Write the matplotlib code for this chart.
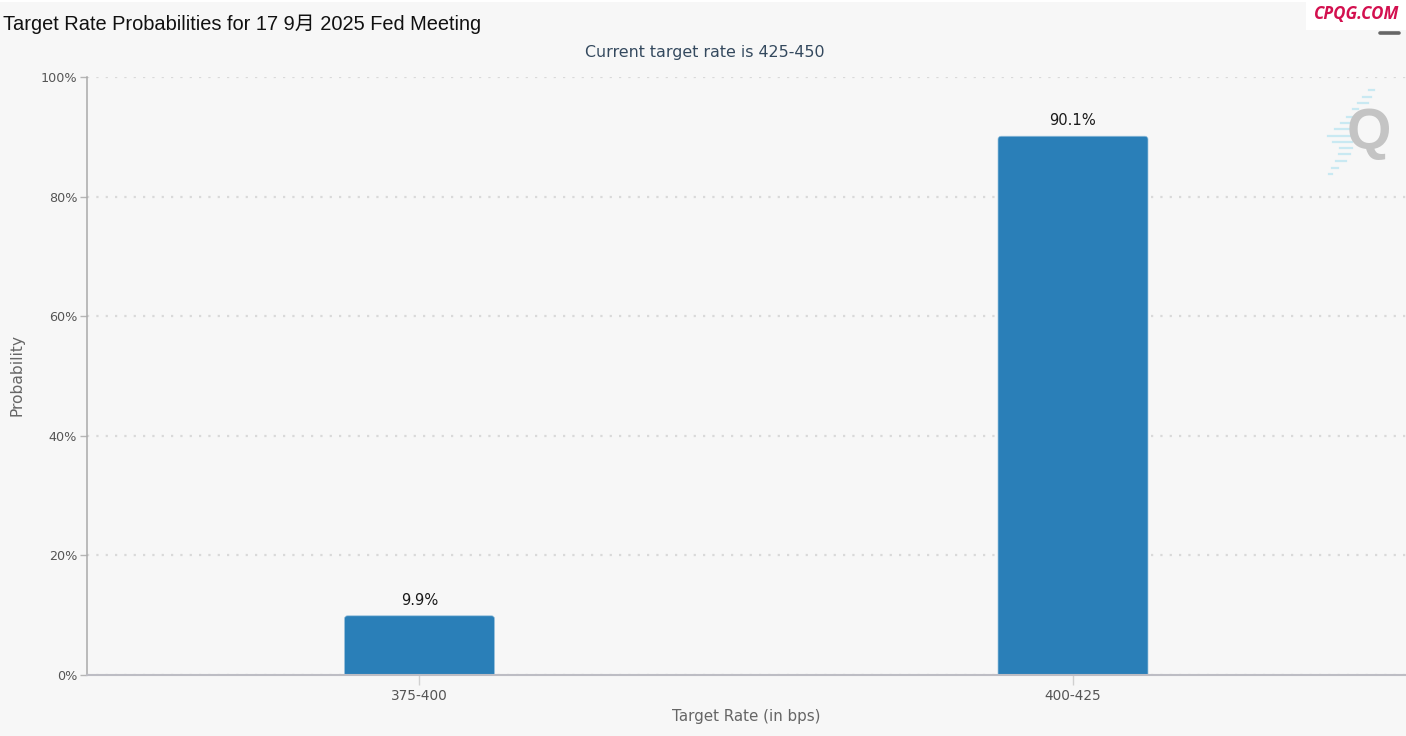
import matplotlib
matplotlib.use("Agg")
import matplotlib.pyplot as plt
from matplotlib.lines import Line2D
from matplotlib.patches import Rectangle, FancyBboxPatch

categories = ["375-400", "400-425"]
probabilities = [9.9, 90.1]
value_labels = ["9.9%", "90.1%"]
y_ticks = [0, 20, 40, 60, 80, 100]
y_tick_labels = ["0%", "20%", "40%", "60%", "80%", "100%"]

W, H = 1406, 736
BG = "#f7f7f7"
LABEL_FONT = ["DejaVu Sans"]
fig = plt.figure(figsize=(W / 100, H / 100), dpi=100, facecolor=BG)


def fx(px):
    return px / W


def fy(py):
    return 1 - py / H


fig.add_artist(Rectangle((0, fy(2)), 1, 2 / H, transform=fig.transFigure, color="white", lw=0))
ax = fig.add_axes([fx(87), fy(675), fx(1406 - 87), (675 - 77) / H], facecolor=BG)
ax.set_xlim((87 - 419.5) / 653.5, (1406 - 419.5) / 653.5)
ax.set_ylim(0, 100)

ax.yaxis.grid(True, color="#d9d9d9", linewidth=1.6, linestyle=(0, (1, 3.2)))
ax.set_axisbelow(True)

# bars through the axes, then rounded in data coordinates
bars = ax.bar(range(len(categories)), probabilities, width=150 / 653.5, color="#2a7fb8", linewidth=0, zorder=3)
px_x = 653.5
px_y = 598 / 100
for b in bars:
    b.set_visible(False)
    ax.add_patch(FancyBboxPatch((b.get_x(), -2), b.get_width(), b.get_height() + 2,
                                boxstyle=f"round,pad=0,rounding_size={3 / px_x}",
                                mutation_aspect=px_x / px_y, facecolor="#2a7fb8",
                                edgecolor="#9cc4de", linewidth=0.5, zorder=3))

for i, (v, s) in enumerate(zip(probabilities, value_labels)):
    ax.annotate(s, (i, v), xytext=(0, 5.6), textcoords="offset points", ha="center", va="bottom",
                fontsize=10.6, color="#1a1a1a", family=LABEL_FONT, zorder=4)

ax.set_xticks(range(len(categories)), categories)
ax.set_yticks(y_ticks, y_tick_labels)
ax.tick_params(axis="x", length=7, width=1, color="#d0d0d0", labelsize=9.8, labelcolor="#555555", pad=3)
ax.tick_params(axis="y", length=5, width=1, color="#b5b5b5", labelsize=9.2, labelcolor="#555555", pad=2)
for lab in ax.get_xticklabels() + ax.get_yticklabels():
    lab.set_family(LABEL_FONT)
for side in ("top", "right"):
    ax.spines[side].set_visible(False)
ax.spines["left"].set_color("#aaaaaa")
ax.spines["bottom"].set_color("#bdbdc4")
ax.spines["left"].set_linewidth(1.1)
ax.spines["bottom"].set_linewidth(1.5)
ax.spines["bottom"].set_zorder(5)

fig.text(fx(3), fy(24), "Target Rate Probabilities for 17 9月 2025 Fed Meeting", fontsize=14.38,
         family=["Liberation Sans", "Noto Sans CJK SC"], color="#111111", ha="left", va="center")
fig.text(fx(705), fy(52), "Current target rate is 425-450", fontsize=11.4, family=LABEL_FONT,
         color="#34495e", ha="center", va="center")
fig.text(fx(746), fy(717), "Target Rate (in bps)", fontsize=10.9, family=LABEL_FONT,
         color="#666666", ha="center", va="center")
fig.text(fx(17), fy(375), "Probability", fontsize=11.2, family=LABEL_FONT, color="#666666",
         ha="center", va="center", rotation=90)

fig.add_artist(Rectangle((fx(1306), fy(30)), 100 / W, 30 / H, transform=fig.transFigure, color="white", lw=0))
fig.text(fx(1356.5), fy(13.5), "CPQG.COM", fontsize=12.2, family=["Open Sans", "DejaVu Sans"], weight="bold",
         style="italic", color="#d3104f", ha="center", va="center")

fig.add_artist(Line2D([fx(1380), fx(1399)], [fy(33), fy(33)], color="#666666", lw=2.6,
                      solid_capstyle="round", transform=fig.transFigure))

streak_y = [90, 97, 103, 109, 117, 123, 129, 136, 142, 148, 154, 161, 168, 174]
streak_x = [(1369, 1374), (1363, 1371), (1358, 1368), (1353, 1358), (1347, 1352), (1341, 1352),
            (1335, 1352), (1328, 1352), (1333, 1352), (1340, 1352), (1339, 1350), (1336, 1346),
            (1332, 1338), (1329, 1332)]
for yy, (x0, x1) in zip(streak_y, streak_x):
    fig.add_artist(Line2D([fx(x0), fx(x1)], [fy(yy), fy(yy)], color="#c9e9f2", lw=1.6,
                          transform=fig.transFigure, zorder=1))
fig.text(fx(1369), fy(134), "Q", fontsize=41, family=["Liberation Sans"], weight="bold", color="#c4c4c4",
         ha="center", va="center", zorder=2)

fig.savefig("out.png", dpi=100, facecolor=BG)
